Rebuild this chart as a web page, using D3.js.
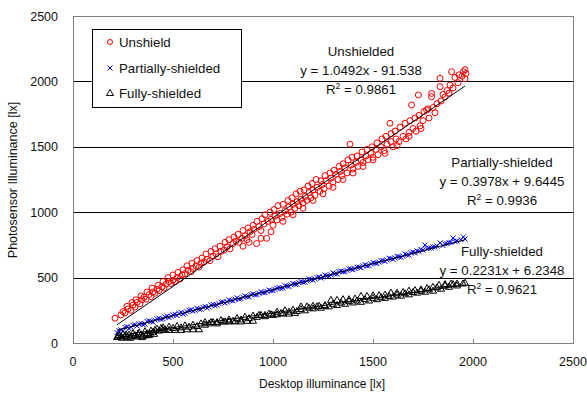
<!DOCTYPE html>
<html><head><meta charset="utf-8">
<script src="https://cdn.jsdelivr.net/npm/d3@7"></script>
<style>body{margin:0;background:#fff}text{font-family:"Liberation Sans",Arial,sans-serif}</style>
</head><body><svg id="c" width="587" height="396"></svg>
<script>
const xTicks = [0,500,1000,1500,2000,2500];
const yTicks = [0,500,1000,1500,2000,2500];
const seriesNames = ["Unshield","Partially-shielded","Fully-shielded"];
const unshielded = [[210,190],[240,215],[260,230],[275,260],[290,250],[300,290],[310,275],[320,310],[335,300],[345,330],[355,350],[365,335],[380,370],[390,355],[400,390],[410,380],[420,410],[430,400],[445,430],[455,420],[465,450],[480,470],[490,455],[500,480],[510,470],[520,500],[535,490],[545,520],[560,530],[575,555],[590,545],[600,570],[615,590],[630,580],[640,610],[655,620],[670,640],[685,630],[700,665],[715,680],[725,660],[740,700],[755,710],[770,735],[785,720],[800,760],[815,780],[830,770],[845,800],[860,820],[870,790],[885,850],[895,830],[905,870],[918,760],[930,890],[940,860],[955,910],[968,800],[975,930],[990,945],[1000,900],[1010,970],[1020,940],[1035,990],[1045,960],[1060,1010],[1070,985],[1080,1040],[1090,1000],[1100,1060],[1110,1030],[1120,1080],[1130,1050],[1140,1100],[1150,1070],[1160,1120],[1170,1090],[1180,1150],[1190,1110],[1200,1170],[1210,1130],[1220,1190],[1235,1160],[1245,1210],[1255,1180],[1265,1240],[1280,1200],[1290,1260],[1300,1230],[1315,1290],[1325,1250],[1335,1310],[1345,1280],[1360,1340],[1370,1300],[1385,1520],[1390,1360],[1400,1330],[1415,1380],[1425,1350],[1440,1400],[1450,1380],[1465,1430],[1475,1400],[1490,1450],[1500,1420],[1515,1480],[1525,1440],[1540,1500],[1555,1470],[1570,1520],[1585,1680],[1590,1540],[1600,1500],[1615,1560],[1630,1540],[1650,1580],[1665,1560],[1680,1610],[1693,1820],[1700,1640],[1715,1620],[1727,1896],[1735,1660],[1750,1700],[1768,1781],[1780,1720],[1793,1883],[1793,1908],[1810,1760],[1835,2024],[1835,1960],[1850,1900],[1870,1930],[1885,1972],[1893,2074],[1910,2030],[1930,2050],[1952,2074],[1960,2090],[1965,2060],
[250,240],[270,280],[295,310],[315,330],[340,360],[370,390],[395,420],[425,440],[450,470],[475,500],[500,520],[525,540],[550,560],[570,590],[595,610],[620,630],[645,650],[665,680],[690,700],[710,720],[735,740],[760,770],[780,790],[805,810],[825,830],[850,860],[875,880],[900,900],[920,930],[945,950],[960,980],[985,1000],[1005,1020],[1025,1050],[1050,1060],[1075,1090],[1095,1110],[1115,1140],[1135,1160],[1155,1170],[1175,1200],[1195,1220],[1215,1250],[1240,1240],[1260,1280],[1285,1300],[1305,1320],[1330,1350],[1350,1370],[1375,1400],[1395,1420],[1420,1430],[1445,1460],[1470,1480],[1495,1500],[1520,1530],[1545,1560],[1565,1580],[1590,1600],[1610,1620],[1635,1650],[1660,1680],[1685,1700],[1710,1720],[1730,1740],[1755,1770],[1775,1790],[1800,1800],[1820,1830],[1840,1850],[1860,1880],[1880,1910],[1900,1950],[1925,1990],[1945,2040],[1960,2020],
[850,740],[880,770],[940,800],[990,850],[1050,930],[1100,980],[1150,1030],[1200,1090],[1250,1140],[1300,1190],[1350,1250],[1400,1300],[1450,1350],[1500,1400],[1560,1450],[1620,1510],[1680,1580],[1740,1640]];
const partially = [[220,80],[240,100],[260,120],[280,110],[300,135],[320,130],[340,150],[360,145],[380,170],[400,160],[420,185],[440,180],[460,200],[480,195],[500,215],[520,210],[540,235],[560,228],[580,250],[600,244],[620,265],[640,258],[660,280],[680,275],[700,295],[720,290],[740,312],[760,305],[780,330],[800,322],[820,345],[840,338],[860,360],[880,352],[900,375],[920,370],[940,392],[960,385],[980,405],[1000,400],[1020,420],[1040,416],[1060,438],[1080,432],[1100,455],[1120,448],[1140,470],[1160,465],[1180,490],[1200,480],[1220,500],[1240,496],[1260,520],[1280,512],[1300,535],[1320,528],[1340,550],[1360,545],[1380,568],[1400,560],[1420,580],[1440,575],[1460,598],[1480,592],[1500,615],[1520,608],[1540,630],[1560,624],[1580,648],[1600,640],[1620,662],[1640,655],[1660,680],[1680,672],[1700,695],[1720,705],[1740,715],[1760,749],[1780,725],[1800,735],[1820,742],[1835,765],[1860,758],[1880,768],[1900,803],[1920,780],[1952,811],[1960,795],
[230,95],[250,90],[270,125],[290,120],[310,140],[330,145],[350,140],[370,165],[390,165],[410,175],[430,190],[450,185],[470,205],[490,205],[510,220],[530,225],[550,222],[570,240],[590,255],[610,250],[630,258],[650,272],[670,268],[690,290],[710,285],[730,300],[750,315],[770,315],[790,325],[810,335],[830,335],[850,350],[870,355],[890,370],[910,368],[930,380],[950,385],[970,395],[990,400],[1010,410],[1030,425],[1050,420],[1070,435],[1090,445],[1110,450],[1130,462],[1150,465],[1170,475],[1190,485],[1210,490],[1230,505],[1250,505],[1270,515],[1290,520],[1310,530],[1330,545],[1350,545],[1370,555],[1390,565],[1410,570],[1430,580],[1450,590],[1470,590],[1490,605],[1510,610],[1530,618],[1550,630],[1570,635],[1590,645],[1610,650],[1630,660],[1650,665],[1670,675],[1690,690],[1710,690],[1730,700],[1750,710],[1770,720],[1790,725],[1810,735],[1850,745],[1870,760],[1890,770],[1910,775],[1940,790]];
const fully = [[220,45],[230,60],[240,50],[250,70],[260,55],[270,45],[280,65],[290,50],[300,75],[310,60],[320,50],[330,80],[340,65],[350,55],[360,90],[370,75],[380,60],[390,95],[400,85],[410,100],[420,110],[430,95],[440,115],[450,120],[460,105],[480,125],[500,115],[520,130],[540,120],[560,135],[580,125],[600,140],[620,130],[640,150],[660,140],[680,150],[700,160],[720,150],[740,175],[760,165],[780,180],[800,170],[820,190],[840,180],[860,200],[880,190],[900,210],[920,200],[940,215],[960,205],[980,225],[1000,215],[1020,240],[1040,230],[1060,250],[1080,240],[1100,255],[1120,245],[1140,260],[1160,250],[1180,270],[1200,265],[1220,280],[1240,270],[1260,290],[1280,280],[1300,300],[1320,290],[1340,310],[1360,300],[1380,320],[1400,310],[1420,325],[1440,315],[1460,335],[1480,325],[1500,345],[1520,335],[1540,350],[1560,345],[1580,360],[1600,355],[1620,370],[1640,362],[1660,380],[1680,372],[1700,390],[1720,385],[1740,400],[1760,392],[1780,410],[1800,400],[1820,425],[1840,415],[1860,440],[1880,430],[1900,450],[1920,440],[1950,455],
[450,100],[480,100],[510,100],[540,100],[570,105],[600,105],[630,105],[660,160],[690,160],[720,160],[750,165],[780,165],[810,165],[840,165],[870,170],[900,170],[930,215],[960,215],[990,220],[1020,220],[1050,225],[1080,225],[1110,230],[1140,280],[1170,280],[1200,285],[1230,285],[1260,285],[1290,330],[1320,330],[1350,335],[1380,335],[1410,340],[1440,360],[1470,360],[1500,365],[1530,365],[1560,370],[1590,385],[1620,385],[1650,390],[1680,400],[1710,405],[1740,410],[1770,420],[1800,430],[1830,445],[1860,450],[1890,455],[1920,455],[1960,460],
[225,55],[245,40],[265,65],[285,40],[305,55],[325,70],[345,45],[365,60],[385,70],[405,70]];
const trendSlopes = [1.0492, 0.3978, 0.2231];
const trendIntercepts = [-91.538, 9.6445, 6.2348];
const trendRange = [220, 1960];
const trendLabels = [
  ["Unshielded","y = 1.0492x - 91.538","0.9861"],
  ["Partially-shielded","y = 0.3978x + 9.6445","0.9936"],
  ["Fully-shielded","y = 0.2231x + 6.2348","0.9621"]
];

const svg = d3.select("#c");
const L=73, R=573, T=16, B=343;
const x = d3.scaleLinear().domain([0,2500]).range([L,R]);
const y = d3.scaleLinear().domain([0,2500]).range([B,T]);
const fs = 12.5, fa = 13.3, tc = "#111";

svg.append("g").selectAll("line").data(yTicks.filter(d=>d>0&&d<2500)).join("line")
  .attr("x1",L).attr("x2",R).attr("y1",d=>Math.round(y(d))+0.5).attr("y2",d=>Math.round(y(d))+0.5)
  .attr("stroke","#000").attr("stroke-width",1);
svg.append("rect").attr("x",L+0.5).attr("y",T+0.5).attr("width",R-L).attr("height",B-T)
  .attr("fill","none").attr("stroke","#808080").attr("stroke-width",1);
svg.append("g").selectAll("line").data(xTicks.filter(d=>d>0&&d<2500)).join("line")
  .attr("x1",d=>Math.round(x(d))+0.5).attr("x2",d=>Math.round(x(d))+0.5).attr("y1",B).attr("y2",B-4)
  .attr("stroke","#808080");
svg.append("g").selectAll("text").data(xTicks).join("text")
  .attr("x",d=>x(d)).attr("y",366).attr("text-anchor","middle").attr("font-size",fs).attr("fill",tc).text(d=>d);
svg.append("g").selectAll("text").data(yTicks).join("text")
  .attr("x",58).attr("y",d=>y(d)+4.5).attr("text-anchor","end").attr("font-size",fs).attr("fill",tc).text(d=>d);
svg.append("text").attr("x",322).attr("y",388).attr("text-anchor","middle").attr("font-size",12).attr("fill",tc).text("Desktop illuminance [lx]");
svg.append("text").attr("transform","translate(17,180) rotate(-90)").attr("text-anchor","middle").attr("font-size",fs).attr("fill",tc).text("Photosensor Illuminance [lx]");

const g = svg.append("g");
g.append("g").selectAll("circle").data(unshielded).join("circle")
  .attr("cx",d=>x(d[0])).attr("cy",d=>y(d[1])).attr("r",3).attr("fill","none").attr("stroke","#ff0000").attr("stroke-width",1);
const xm = (sel, s, col) => sel.append("path").attr("d",`M${-s},${-s}L${s},${s}M${-s},${s}L${s},${-s}`).attr("stroke",col).attr("stroke-width",1).attr("fill","none");
g.append("g").selectAll("g").data(partially).join("g")
  .attr("transform",d=>`translate(${x(d[0])},${y(d[1])})`).each(function(){xm(d3.select(this),2.5,"#0000ff");});
const tri = "M0,-3.5L3.5,2.5L-3.5,2.5Z";
g.append("g").selectAll("path").data(fully).join("path")
  .attr("transform",d=>`translate(${x(d[0])},${y(d[1])})`).attr("d",tri).attr("fill","none").attr("stroke","#000").attr("stroke-width",1);

g.append("g").selectAll("line").data(trendSlopes).join("line")
  .attr("x1",x(trendRange[0])).attr("x2",x(trendRange[1]))
  .attr("y1",(d,i)=>y(d*trendRange[0]+trendIntercepts[i])).attr("y2",(d,i)=>y(d*trendRange[1]+trendIntercepts[i]))
  .attr("stroke","#000").attr("stroke-width",1);

const annPos = [[361,56],[502,167],[502,256]];
trendLabels.forEach((lab,i)=>{
  const [cx,by] = annPos[i];
  svg.append("text").attr("x",cx).attr("y",by).attr("text-anchor","middle").attr("font-size",fa).attr("fill",tc).text(lab[0]);
  svg.append("text").attr("x",cx).attr("y",by+18.5).attr("text-anchor","middle").attr("font-size",fa).attr("fill",tc).text(lab[1]);
  const t = svg.append("text").attr("x",cx).attr("y",by+37.5).attr("text-anchor","middle").attr("font-size",fa).attr("fill",tc);
  t.append("tspan").text("R");
  t.append("tspan").attr("dy",-5).attr("font-size",8.5).text("2");
  t.append("tspan").attr("dy",5).text(" = "+lab[2]);
});

const lg = svg.append("g");
lg.append("rect").attr("x",92.5).attr("y",29.5).attr("width",149).attr("height",78).attr("fill","#fff").attr("stroke","#000");
const ly = [42,68,93];
seriesNames.forEach((n,i)=>{
  lg.append("text").attr("x",119).attr("y",ly[i]+4.5).attr("font-size",fa).attr("fill",tc).text(n);
});
lg.append("circle").attr("cx",110).attr("cy",ly[0]).attr("r",2.5).attr("fill","none").attr("stroke","#ff0000");
xm(lg.append("g").attr("transform",`translate(110,${ly[1]})`),2.5,"#0000ff");
lg.append("path").attr("transform",`translate(110,${ly[2]})`).attr("d",tri).attr("fill","none").attr("stroke","#000");
</script></body></html>
